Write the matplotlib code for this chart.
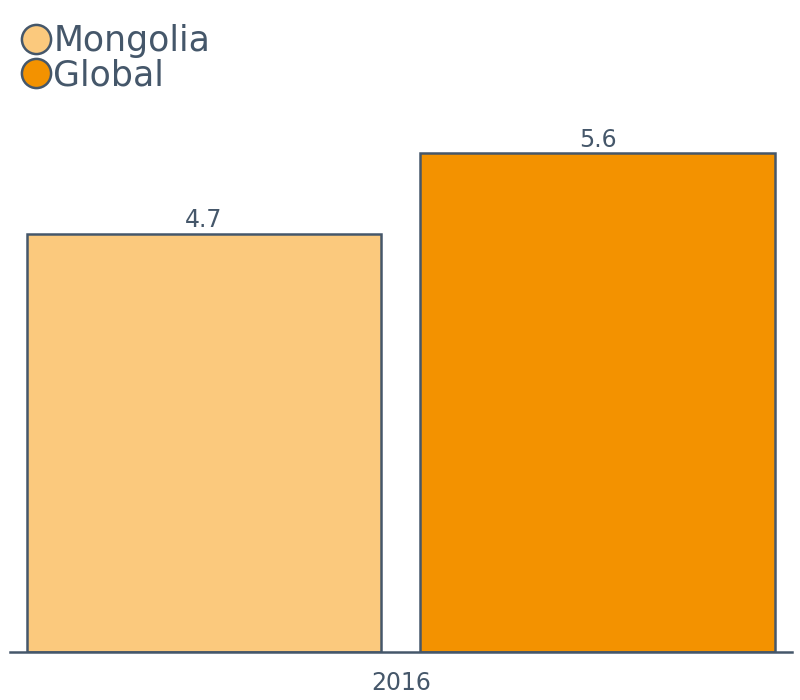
import matplotlib.pyplot as plt
from matplotlib.lines import Line2D

categories = ['Mongolia', 'Global']
values = [4.7, 5.6]
year_label = '2016'
colors = ['#fbc97d', '#f39200']
ink = '#45576a'

fig = plt.figure(figsize=(8, 7), dpi=100)
ax = fig.add_axes([10 / 800, 48 / 700, 782 / 800, 552 / 700])

xs = [0, 1]
bars = ax.bar(xs, values, width=0.9, color=colors, edgecolor=ink, linewidth=1.8)
for b, v in zip(bars, values):
    ax.text(b.get_x() + b.get_width() / 2, v + 0.02, f'{v}', ha='center', va='bottom',
            fontsize=17, color=ink)

ax.set_xlim(-0.493, 1.494)
ax.set_ylim(0, 6.2)
ax.set_xticks([0.5])
ax.set_xticklabels([year_label], fontsize=17, color=ink)
ax.tick_params(axis='x', length=0, pad=14)
ax.set_yticks([])
for s in ['top', 'right', 'left']:
    ax.spines[s].set_visible(False)
ax.spines['bottom'].set_color(ink)
ax.spines['bottom'].set_linewidth(1.8)

handles = [Line2D([], [], marker='o', linestyle='', markersize=21, markerfacecolor=c,
                  markeredgecolor=ink, markeredgewidth=1.8) for c in colors]
fig.legend(handles, categories, loc='upper left', bbox_to_anchor=(-0.003, 0.995), frameon=False,
           fontsize=25, labelcolor=ink, handletextpad=0.0, labelspacing=0.0, borderaxespad=0.2,
           handlelength=1.0)

fig.savefig('out.png', dpi=100)
